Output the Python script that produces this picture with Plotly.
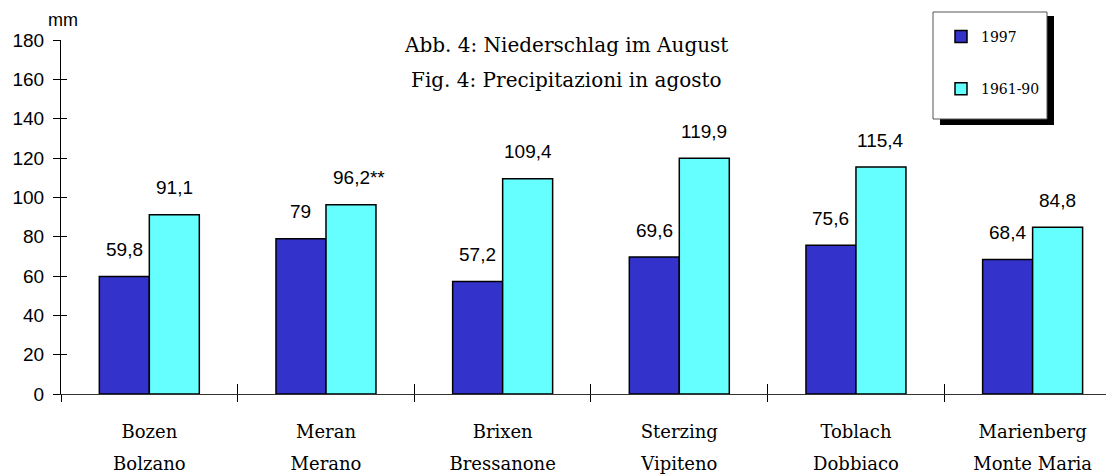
import plotly.graph_objects as go

# ---- data ----
stations_de = ["Bozen", "Meran", "Brixen", "Sterzing", "Toblach", "Marienberg"]
stations_it = ["Bolzano", "Merano", "Bressanone", "Vipiteno", "Dobbiaco", "Monte Maria"]
series_names = ["1997", "1961-90"]
values_1997 = [59.8, 79, 57.2, 69.6, 75.6, 68.4]
values_norm = [91.1, 96.2, 109.4, 119.9, 115.4, 84.8]
labels_1997 = ["59,8", "79", "57,2", "69,6", "75,6", "68,4"]
labels_norm = ["91,1", "96,2**", "109,4", "119,9", "115,4", "84,8"]
y_ticks = [0, 20, 40, 60, 80, 100, 120, 140, 160, 180]

# ---- layout geometry (page body has an 8px margin) ----
OFF = 8
W, H = 1114 - OFF, 474 - OFF
ML, MR, MT, MB = 61 - OFF, 1, 40 - OFF, 80
PW = W - ML - MR
PH = H - MT - MB


def px_x(px):
    return (px - OFF - ML) / PW


def px_y(py):
    return (H - MB - (py - OFF)) / PH


SERIF = "DejaVu Serif"
SANS = "Liberation Sans, Arial, sans-serif"
BLUE = "#3333CC"
CYAN = "#66FFFF"

fig = go.Figure()
fig.add_trace(go.Bar(x=stations_de, y=values_1997, name=series_names[0],
                     legendgroup="a",
                     marker=dict(color=BLUE, line=dict(color="black", width=1.5)),
                     hoverinfo="skip"))
fig.add_trace(go.Bar(x=stations_de, y=values_norm, name=series_names[1],
                     legendgroup="b",
                     marker=dict(color=CYAN, line=dict(color="black", width=1.5)),
                     hoverinfo="skip"))
# helper trace so the overlay axes know the categories
fig.add_trace(go.Scatter(x=stations_de, y=[None] * len(stations_de), xaxis="x2", yaxis="y2",
                         mode="markers", showlegend=False, hoverinfo="skip"))

annotations = []
for i, st in enumerate(stations_de):
    for val, lab, dx in ((values_1997[i], labels_1997[i], -25), (values_norm[i], labels_norm[i], 25)):
        extra = 8 if lab.endswith("**") else 0
        annotations.append(dict(x=st, y=val, xref="x", yref="y", text=lab, showarrow=False,
                                xshift=dx + extra, yshift=27, yanchor="middle", xanchor="center",
                                font=dict(family=SANS, size=19, color="black")))

annotations += [
    dict(x=px_x(566), y=px_y(45), xref="paper", yref="paper", text="Abb. 4: Niederschlag im August",
         showarrow=False, xanchor="center", yanchor="middle",
         font=dict(family=SERIF, size=20, color="black")),
    dict(x=px_x(566), y=px_y(80), xref="paper", yref="paper", text="Fig. 4: Precipitazioni in agosto",
         showarrow=False, xanchor="center", yanchor="middle",
         font=dict(family=SERIF, size=20, color="black")),
    dict(x=px_x(63), y=px_y(20), xref="paper", yref="paper", text="mm",
         showarrow=False, xanchor="center", yanchor="middle",
         font=dict(family=SANS, size=18, color="black")),
]

shapes = [
    # legend shadow
    dict(type="rect", xref="paper", yref="paper", x0=px_x(940), x1=px_x(1054), y0=px_y(125), y1=px_y(16),
         fillcolor="black", line=dict(width=0), layer="above"),
    # legend box
    dict(type="rect", xref="paper", yref="paper", x0=px_x(933), x1=px_x(1047), y0=px_y(119), y1=px_y(12),
         fillcolor="white", line=dict(color="#555555", width=1), layer="above"),
]

fig.update_layout(
    template="none",
    width=W, height=H,
    margin=dict(l=ML, r=MR, t=MT, b=MB, pad=0, autoexpand=False),
    paper_bgcolor="white", plot_bgcolor="white",
    barmode="group", bargap=0.434, bargroupgap=0,
    showlegend=True,
    legend=dict(x=px_x(941), y=px_y(21), xanchor="left", yanchor="top",
                bgcolor="rgba(0,0,0,0)", borderwidth=0,
                traceorder="grouped", tracegroupgap=31,
                font=dict(family=SERIF, size=14, color="black")),
    xaxis=dict(type="category", categoryorder="array", categoryarray=stations_de,
               range=[-0.5, 5.455], tickson="boundaries", automargin=False,
               ticks="outside", ticklen=7, tickcolor="black", tickwidth=1,
               showline=True, linecolor="#333333", linewidth=1,
               showgrid=False, zeroline=False,
               tickvals=stations_de, ticktext=stations_de,
               tickfont=dict(family=SERIF, size=18, color="black"),
               ticklabelstandoff=21),
    xaxis2=dict(type="category", categoryorder="array", categoryarray=stations_de,
                overlaying="x", side="bottom", anchor="y", automargin=False,
                range=[-0.5, 5.455], tickson="boundaries",
                ticks="inside", ticklen=10, tickcolor="black", tickwidth=1,
                showline=False, showgrid=False, zeroline=False,
                tickvals=stations_de, ticktext=stations_it,
                tickfont=dict(family=SERIF, size=18, color="black"),
                ticklabelstandoff=57),
    yaxis=dict(range=[0, 180], tickvals=y_ticks, ticktext=[str(v) for v in y_ticks],
               automargin=False,
               ticks="outside", ticklen=7, tickcolor="black", tickwidth=1,
               showline=True, linecolor="black", linewidth=1,
               showgrid=False, zeroline=False,
               tickfont=dict(family=SANS, size=19, color="black"),
               ticklabelstandoff=5),
    yaxis2=dict(range=[0, 180], overlaying="y", side="left", anchor="x", automargin=False,
                tickvals=y_ticks, ticks="inside", ticklen=6, tickcolor="black", tickwidth=1,
                showticklabels=False, showline=False, showgrid=False, zeroline=False),
    annotations=annotations,
    shapes=shapes,
)

fig.write_html("out.html")
